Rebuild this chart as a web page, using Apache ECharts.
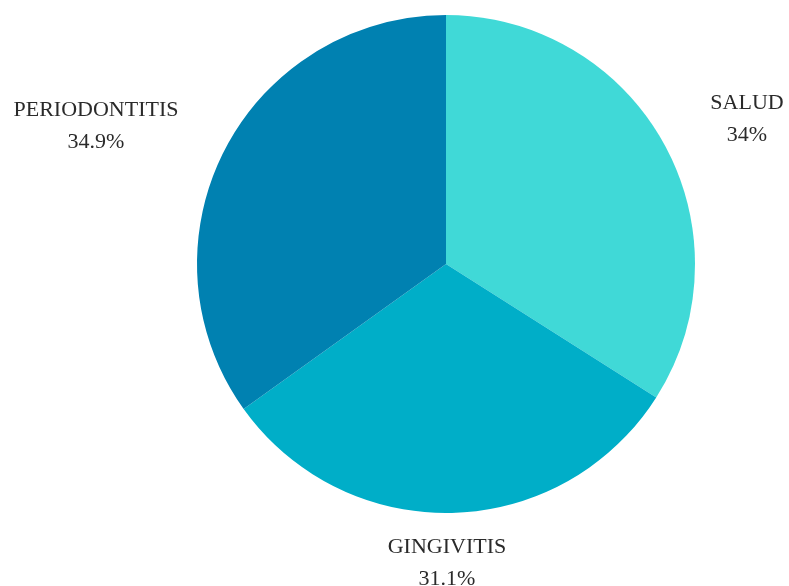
<!DOCTYPE html>
<html><head><meta charset="utf-8">
<script src="https://cdn.jsdelivr.net/npm/echarts@6/dist/echarts.min.js"></script>
<style>html,body{margin:0;padding:0;background:#fff}#c{width:789px;height:586px}</style>
</head><body><div id="c"></div>
<script>
const categories = ['SALUD', 'GINGIVITIS', 'PERIODONTITIS'];
const values = [34, 31.1, 34.9];
const valueLabels = ['34%', '31.1%', '34.9%'];
const colors = ['#40D9D7', '#00AEC8', '#0081B1'];
const labelPos = [[747, 119], [447, 563], [96, 126]];

const chart = echarts.init(document.getElementById('c'));
chart.setOption({
  animation: false,
  series: [{
    type: 'pie',
    center: [446, 264],
    radius: 249,
    startAngle: 90,
    clockwise: true,
    avoidLabelOverlap: false,
    data: categories.map((n, i) => ({name: n, value: values[i], itemStyle: {color: colors[i]}})),
    label: {
      show: true,
      position: 'outside',
      formatter: p => p.name + '\n' + valueLabels[p.dataIndex],
      fontFamily: 'Liberation Serif',
      fontSize: 22,
      lineHeight: 32,
      color: '#2a2a2a',
      align: 'center',
      overflow: 'none',
      bleedMargin: 0
    },
    labelLine: {show: false},
    labelLayout: p => ({x: labelPos[p.dataIndex][0], y: labelPos[p.dataIndex][1], align: 'center', verticalAlign: 'middle'}),
    emphasis: {disabled: true}
  }]
});
</script></body></html>
